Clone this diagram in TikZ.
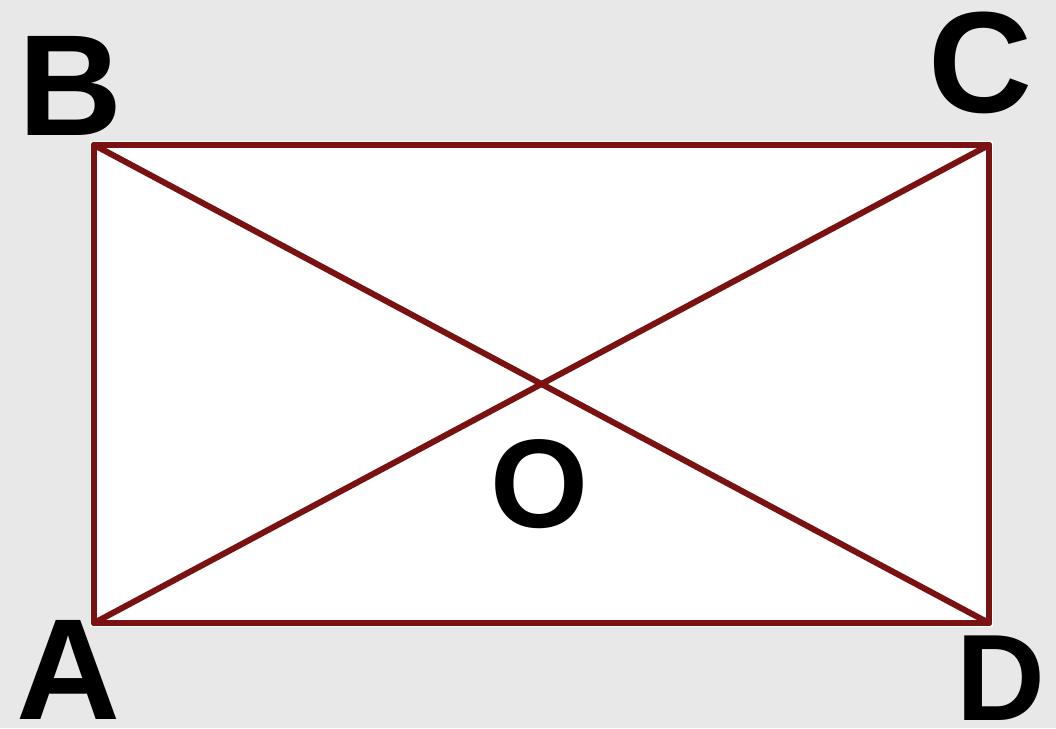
\documentclass[tikz,border=0pt]{standalone}
\usepackage{fontspec}
\setmainfont{Liberation Sans}
\definecolor{bggrey}{RGB}{232,232,232}
\definecolor{maroon}{RGB}{122,18,18}
\begin{document}
\begin{tikzpicture}[x=1pt,y=-1pt,
  edge/.style={draw=maroon,line width=6pt,line cap=round,line join=round},
  lbl/.style={inner sep=0pt,text=black,font=\bfseries}]
\fill[bggrey] (0,0) rectangle (1056,728);
\useasboundingbox (0,0) rectangle (1056,728);
\coordinate (A) at (94,623);
\coordinate (B) at (94,145);
\coordinate (C) at (989,145);
\coordinate (D) at (989,623);
\fill[white] (90,141) rectangle (993,627);
\draw[edge] (A) -- (B) -- (C) -- (D) -- cycle;
\draw[edge] (A) -- (C);
\draw[edge] (B) -- (D);
\node[lbl] (lB) at (70,86) {\fontsize{144}{144}\selectfont B};
\node[lbl] (lC) at (980,63) {\fontsize{144}{144}\selectfont C};
\node[lbl] (lA) at (68,670) {\fontsize{144}{144}\selectfont A};
\node[lbl] (lD) at (1001,678) {\fontsize{123}{123}\selectfont D};
\node[lbl] (lO) at (539,484) {\fontsize{126}{126}\selectfont O};
\end{tikzpicture}
\end{document}
